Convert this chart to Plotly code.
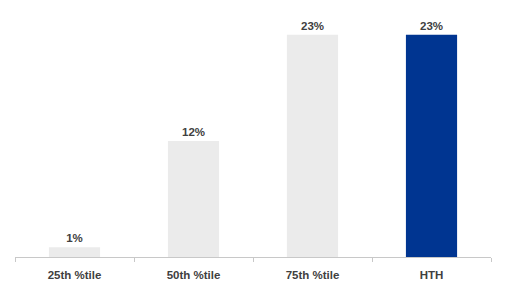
import plotly.graph_objects as go

categories = ["25th %tile", "50th %tile", "75th %tile", "HTH"]
values = [1, 12, 23, 23]
labels = ["1%", "12%", "23%", "23%"]
colors = ["#ebebeb", "#ebebeb", "#ebebeb", "#003591"]

fig = go.Figure(go.Bar(
    x=categories, y=values, text=labels, textposition="outside",
    textfont=dict(family="Liberation Sans, Arial", size=11.5, color="#404040", weight="bold"),
    marker=dict(color=colors, line=dict(width=0)),
    width=0.43, cliponaxis=False,
))
fig.update_layout(
    width=506, height=293, margin=dict(l=15, r=15, t=16, b=33),
    paper_bgcolor="white", plot_bgcolor="white", showlegend=False,
    font=dict(family="Liberation Sans, Arial", size=11, color="#404040"),
)
fig.update_xaxes(showline=True, linecolor="#c8c8c8", linewidth=1, ticks="outside",
                 tickson="boundaries", ticklen=4, tickcolor="#c8c8c8",
                 ticklabelstandoff=7,
                 tickfont=dict(size=11.5, color="#404040", weight="bold"))
fig.update_yaxes(range=[0, 24.95], visible=False, showgrid=False)
fig.write_html("out.html")
